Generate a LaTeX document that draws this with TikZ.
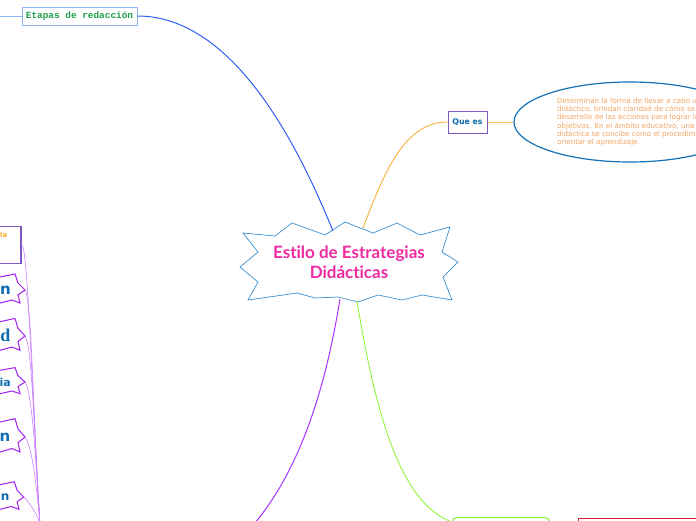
\documentclass[tikz,border=0pt]{standalone}
\usepackage{fontspec}
\setmainfont{DejaVu Sans}
\newfontfamily\titlefont[Ligatures={NoCommon}]{Lato}
\newfontfamily\monofont{Liberation Mono}
\newfontfamily\serifbold{Liberation Serif}
\definecolor{cblue}{HTML}{2F5FF5}
\definecolor{corange}{HTML}{F9A825}
\definecolor{cpurple}{HTML}{AA33FF}
\definecolor{cgreen}{HTML}{88F52A}
\definecolor{starblue}{HTML}{3A8FD0}
\definecolor{cpink}{HTML}{F02AA0}
\definecolor{ellblue}{HTML}{1672B8}
\definecolor{elltext}{HTML}{F4A460}
\definecolor{boxpurple}{HTML}{7E57C2}
\definecolor{textblue}{HTML}{0E6DB0}
\definecolor{lightblue}{HTML}{8AB4F8}
\definecolor{etgreen}{HTML}{1E9E4A}
\definecolor{lstarc}{HTML}{A020F0}
\definecolor{lconn}{HTML}{CC80FF}
\definecolor{cred}{HTML}{D81B40}
\tikzset{
  ltext/.style={anchor=east, text=textblue, font=\bfseries, inner sep=0pt},
  lconnector/.style={draw=lconn, line width=0.6pt},
  lstarpath/.style={draw=lstarc, line width=1pt, fill=white},
  elline/.style={anchor=west, text=elltext, font=\fontsize{7.1}{8}\selectfont, inner sep=0pt},
}
\begin{document}
\begin{tikzpicture}[x=1pt,y=-1pt]
\useasboundingbox (0,0) rectangle (696,520);
\clip (0,0) rectangle (696,520);
\fill[white] (0,0) rectangle (696,520);

% central star
\coordinate (cc) at (349,263);
\draw[starblue, line width=0.7pt, fill=white] (243,233) -- (275,236) -- (292,223) -- (325,235) -- (345,222) -- (373,233) -- (397,223) -- (420,235) -- (450,227) -- (442,252) -- (458,262) -- (443,277) -- (452,300) -- (422,295) -- (402,300) -- (378,295) -- (358,302) -- (338,297) -- (315,298) -- (297,293) -- (248,300) -- (258,282) -- (240,267) -- (258,252) -- cycle;
\node[text=cpink, font=\titlefont\bfseries\fontsize{17}{19.5}\selectfont, align=center, inner sep=0pt] (center) at (349,262) {Estilo de Estrategias\\Didácticas};
\coordinate (ctop1) at (333,231);
\coordinate (ctop2) at (363,228);
\coordinate (cbot1) at (340,299);
\coordinate (cbot2) at (357,301);

% Etapas de redaccion
\node[draw=lightblue, line width=0.8pt, fill=white, text=etgreen, font=\monofont\bfseries\fontsize{9.4}{10}\selectfont, minimum width=115pt, minimum height=18pt, inner sep=0pt] (etapas) at (79.5,16) {Etapas de redacción};
\coordinate (etl) at (0,16);
\draw[lightblue, line width=0.8pt] (etl) -- (etapas.west);
\draw[cblue, line width=1pt] (etapas.east) .. controls (235,16) and (300,150) .. (ctop1);

% Que es
\node[draw=boxpurple, line width=1pt, fill=white, text=textblue, font=\bfseries\fontsize{7.8}{9}\selectfont, minimum width=39pt, minimum height=22pt, inner sep=0pt] (quees) at (467.5,122) {Que es};
\draw[corange, line width=0.8pt] (ctop2) .. controls (385,170) and (405,122) .. (quees.west);
\coordinate (ellleft) at (514,122);
\draw[corange!70, line width=0.7pt] (quees.east) -- (ellleft);
\draw[ellblue, line width=1.2pt, fill=white] (630,122) ellipse [x radius=116, y radius=40];
\node[elline] (e1) at (557,101) {Determinan la forma de llevar a cabo un};
\node[elline] (e2) at (557,109.3) {didáctico, brindan claridad de cómo se p};
\node[elline] (e3) at (557,117.6) {desarrollo de las acciones para lograr lo};
\node[elline] (e4) at (557,125.9) {objetivos. En el ámbito educativo, una e};
\node[elline] (e5) at (557,134.2) {didáctica se concibe como el procedimie};
\node[elline] (e6) at (557,142.5) {orientar el aprendizaje.};

% bottom branches
\coordinate (pend) at (255,523);
\draw[cpurple, line width=1pt] (cbot1) .. controls (322,410) and (292,478) .. (pend);
\draw[cgreen, line width=0.8pt] (cbot2) .. controls (378,430) and (405,505) .. (452,522);
\draw[cgreen, line width=1pt, rounded corners=5pt] (452,540) -- (452,517.5) -- (550,517.5) -- (550,540);
\draw[cred, line width=1pt] (578,540) -- (578,518) -- (700,518);

% left column
\coordinate (spine) at (40,524);
\node[draw=boxpurple, line width=1.3pt, fill=white, minimum width=40pt, minimum height=37pt, inner sep=0pt] (lbox) at (1,245) {};
\node[anchor=west, text=corange, font=\bfseries\fontsize{7}{8}\selectfont, inner sep=0pt] (lboxt) at (0,235) {la};
\draw[lconnector] (lbox.east) .. controls (28,245) and (32,400) .. (spine);

% left stars
\newcommand\lstarshape[3]{% cy, sy, sx
  \draw[lstarpath] (-10,#1-11*#2) -- (15*#3,#1-16*#2) -- (18*#3,#1-7*#2) -- (25*#3,#1) -- (18*#3,#1+5*#2) -- (20*#3,#1+13*#2) -- (12*#3,#1+10*#2) -- (0,#1+13*#2) -- (-10,#1+13*#2);
}
\lstarshape{290}{1}{1}
\coordinate (s1) at (25,290);
\node[ltext, font=\bfseries\fontsize{15}{17}\selectfont] (t1) at (11,290) {n};
\lstarshape{336}{1.1}{1}
\coordinate (s2) at (25,336);
\node[ltext, font=\serifbold\bfseries\fontsize{18}{20}\selectfont] (t2) at (10.5,335) {d};
\lstarshape{382}{0.9}{1}
\coordinate (s3) at (25,382);
\node[ltext, font=\bfseries\fontsize{11}{13}\selectfont] (t3) at (11,382) {ia};
\lstarshape{437}{1.15}{1}
\coordinate (s4) at (25,437);
\node[ltext, font=\bfseries\fontsize{15}{17}\selectfont] (t4) at (10.5,437) {n};
\lstarshape{497}{0.95}{0.95}
\coordinate (s5) at (24,497);
\node[ltext, font=\bfseries\fontsize{12}{14}\selectfont] (t5) at (9.5,497) {n};

\draw[lconnector] (s1) .. controls (32,300) and (33,420) .. (spine);
\draw[lconnector] (s2) .. controls (32,346) and (34,430) .. (spine);
\draw[lconnector] (s3) .. controls (32,392) and (35,450) .. (spine);
\draw[lconnector] (s4) .. controls (32,447) and (36,480) .. (spine);
\draw[lconnector] (s5) .. controls (31,505) and (36,512) .. (spine);
\end{tikzpicture}
\end{document}
